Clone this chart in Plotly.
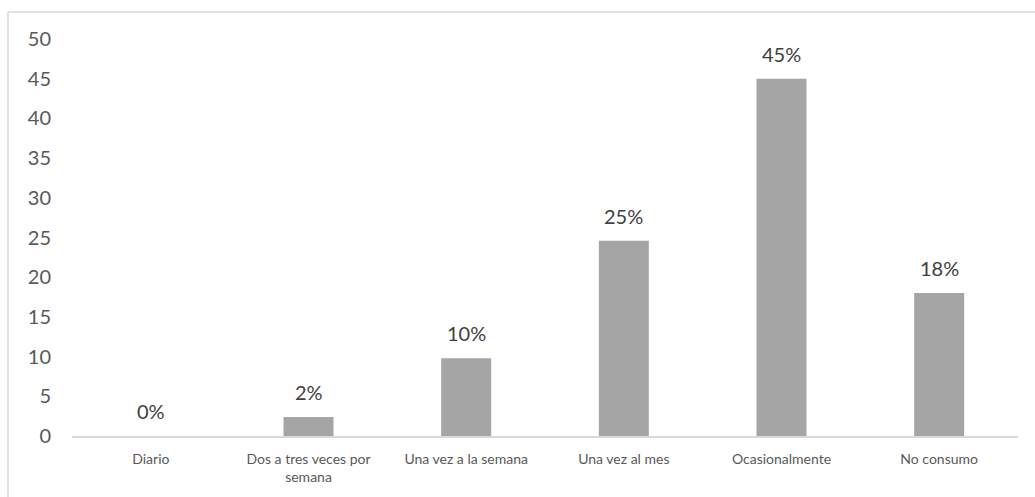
import plotly.graph_objects as go

# Frecuencia de consumo (% de encuestados)
categorias = ["Diario", "Dos a tres veces por<br>semana", "Una vez a la semana",
              "Una vez al mes", "Ocasionalmente", "No consumo"]
porcentajes = [0, 2.4, 9.8, 24.6, 45.0, 18.0]
y_ticks = [0, 5, 10, 15, 20, 25, 30, 35, 40, 45, 50]

FONT = "Lato, 'Open Sans', sans-serif"
BAR_COLOR = "#A5A5A5"
GRID_COLOR = "#D9D9D9"

fig = go.Figure()
fig.add_trace(go.Bar(
    x=categorias,
    y=porcentajes,
    marker=dict(color=BAR_COLOR, line=dict(width=0)),
    hoverinfo="skip",
))

# Etiquetas de datos sobre cada barra
for cat, val in zip(categorias, porcentajes):
    fig.add_annotation(
        x=cat, y=val, xref="x", yref="y",
        text=f"{val:.0f}%",
        showarrow=False, yanchor="bottom", yshift=11,
        font=dict(family=FONT, size=20, color="#404040"),
    )

# Marco del área del gráfico
fig.add_shape(type="line", xref="paper", yref="paper",
              x0=-0.0677, x1=1.2, y0=1.0677, y1=1.0677,
              line=dict(color=GRID_COLOR, width=1.5))
fig.add_shape(type="line", xref="paper", yref="paper",
              x0=-0.0677, x1=-0.0677, y0=1.0677, y1=-0.3,
              line=dict(color=GRID_COLOR, width=1.5))

fig.update_layout(
    width=1035, height=497,
    margin=dict(l=72, r=17, t=39, b=59),
    paper_bgcolor="white", plot_bgcolor="white",
    bargap=0.683,
    showlegend=False,
    font=dict(family=FONT, color="#595959"),
    xaxis=dict(
        showgrid=False, showline=True, linecolor=GRID_COLOR, linewidth=2,
        ticks="", tickfont=dict(size=14, color="#595959"),
        ticklabelstandoff=9,
    ),
    yaxis=dict(
        range=[0, 50], tickvals=y_ticks, showgrid=False, showline=False,
        zeroline=False, ticks="", tickfont=dict(size=20, color="#595959"),
        ticklabelstandoff=20,
    ),
)

fig.write_html("out.html")
